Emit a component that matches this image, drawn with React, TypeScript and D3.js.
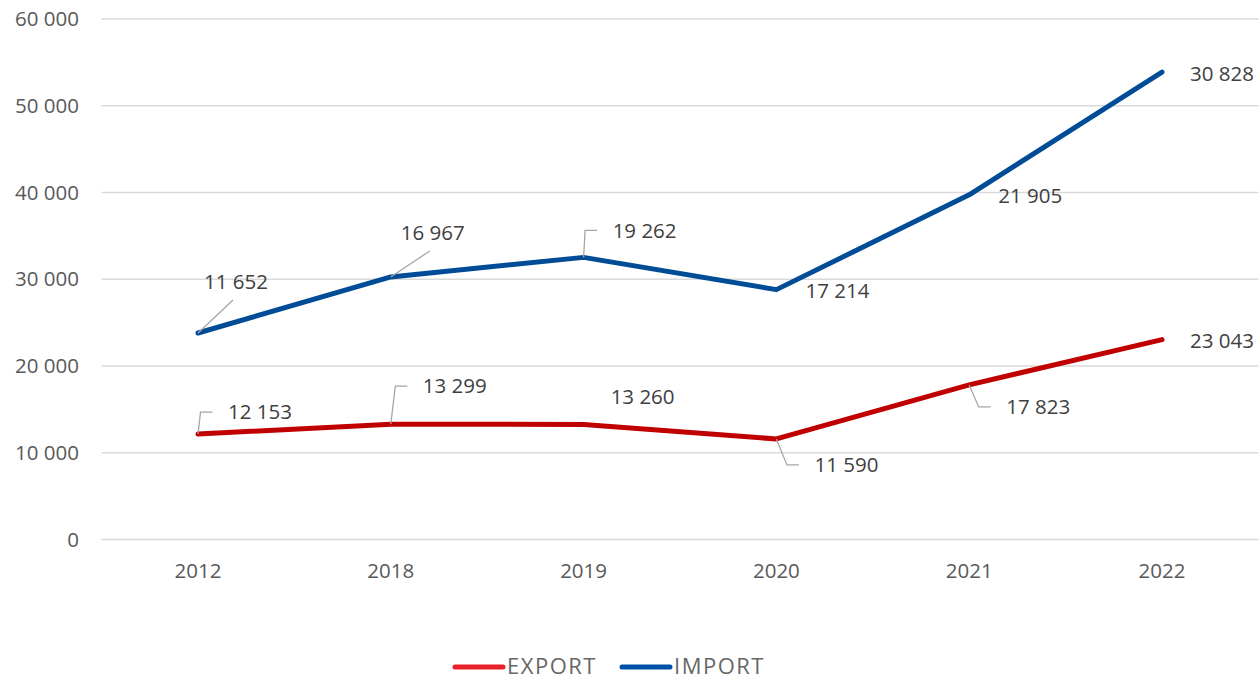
import React from 'react';
import { scaleBand, scaleLinear, stack, line, formatLocale } from 'd3';

const years = ['2012', '2018', '2019', '2020', '2021', '2022'];
const exportValues = [12153, 13299, 13260, 11590, 17823, 23043];
const importValues = [11652, 16967, 19262, 17214, 21905, 30828];
const yTicks = [0, 10000, 20000, 30000, 40000, 50000, 60000];
const seriesKeys = ['EXPORT', 'IMPORT'];

const colors: Record<string, string> = { EXPORT: '#C00000', IMPORT: '#004C97' };
const legendColors: Record<string, string> = { EXPORT: '#E8202A', IMPORT: '#0052A8' };

// label placement (offset of label centre from its point) + leader style
const labelLayout: Record<string, { dx: number; dy: number; leader: string }[]> = {
  EXPORT: [
    { dx: 62, dy: -22, leader: 'elbow' },
    { dx: 64, dy: -38, leader: 'elbow' },
    { dx: 59, dy: -28, leader: 'none' },
    { dx: 70, dy: 26, leader: 'elbow' },
    { dx: 69, dy: 22, leader: 'elbow' },
    { dx: 60, dy: 1, leader: 'none' },
  ],
  IMPORT: [
    { dx: 38, dy: -51, leader: 'diag' },
    { dx: 42, dy: -44, leader: 'diag' },
    { dx: 61, dy: -27, leader: 'elbow' },
    { dx: 61, dy: 1, leader: 'none' },
    { dx: 61, dy: 1, leader: 'none' },
    { dx: 60, dy: 2, leader: 'none' },
  ],
};

const width = 1260;
const height = 680;
const font = '"Open Sans", "Noto Sans", sans-serif';

const fmt = formatLocale({ decimal: ',', thousands: '\u00a0', grouping: [3], currency: ['', ''] }).format(',d');

function App() {
  const rows = years.map((year, i) => ({ year, EXPORT: exportValues[i], IMPORT: importValues[i] }));
  const stacked = stack<any>().keys(seriesKeys)(rows);

  const xScale = scaleBand().domain(years).range([101.6, 1258.4]);
  const yScale = scaleLinear().domain([0, 60000]).range([539.5, 19]);
  const cx = (y: string) => xScale(y)! + xScale.bandwidth() / 2;

  const pathGen = line<any>()
    .x(d => cx(d.data.year))
    .y(d => yScale(d[1]));

  const halfW = 32.5;

  return (
    <svg width={width} height={height} style={{ position: 'absolute', left: 0, top: 0, background: '#fff' }}>
      {yTicks.map(t => (
        <g key={t}>
          <line x1={101.6} x2={1258.4} y1={yScale(t)} y2={yScale(t)} stroke="#D9D9D9" strokeWidth={1.5} />
          <text x={79} y={yScale(t)} dy="0.35em" textAnchor="end" fontFamily={font} fontSize={20.5} fill="#595959">
            {fmt(t)}
          </text>
        </g>
      ))}
      {years.map(y => (
        <text key={y} x={cx(y)} y={571} dy="0.35em" textAnchor="middle" fontFamily={font} fontSize={20.5} fill="#595959">
          {y}
        </text>
      ))}

      {stacked.map(s => (
        <path key={s.key} d={pathGen(s)!} fill="none" stroke={colors[s.key]} strokeWidth={5}
          strokeLinecap="round" strokeLinejoin="round" />
      ))}

      {stacked.map(s =>
        s.map((d, i) => {
          const px = cx(d.data.year);
          const py = yScale(d[1]);
          const lay = labelLayout[s.key][i];
          const lx = px + lay.dx;
          const ly = py + lay.dy;
          let leader = '';
          if (lay.leader === 'elbow') {
            const endX = lx - halfW - 15;
            leader = `M${px},${py}L${endX - 12},${ly}L${endX},${ly}`;
          } else if (lay.leader === 'diag') {
            leader = `M${px},${py}L${lx - 3},${ly + 18}`;
          }
          return (
            <g key={s.key + i}>
              {leader && <path d={leader} fill="none" stroke="#A6A6A6" strokeWidth={1.3} />}
              <text x={lx} y={ly} dy="0.35em" textAnchor="middle" fontFamily={font} fontSize={20.5} fill="#404040">
                {fmt(s.key === 'EXPORT' ? exportValues[i] : importValues[i])}
              </text>
            </g>
          );
        })
      )}

      {seriesKeys.map((k, i) => {
        const x0 = i === 0 ? 455 : 622;
        return (
          <g key={k}>
            <line x1={x0} x2={x0 + 48} y1={667} y2={667} stroke={legendColors[k]} strokeWidth={5} strokeLinecap="round" />
            <text x={x0 + 52} y={674} fontFamily={font} fontSize={22} letterSpacing={1.5} fill="#666666">
              {k}
            </text>
          </g>
        );
      })}
    </svg>
  );
}

export default App;
